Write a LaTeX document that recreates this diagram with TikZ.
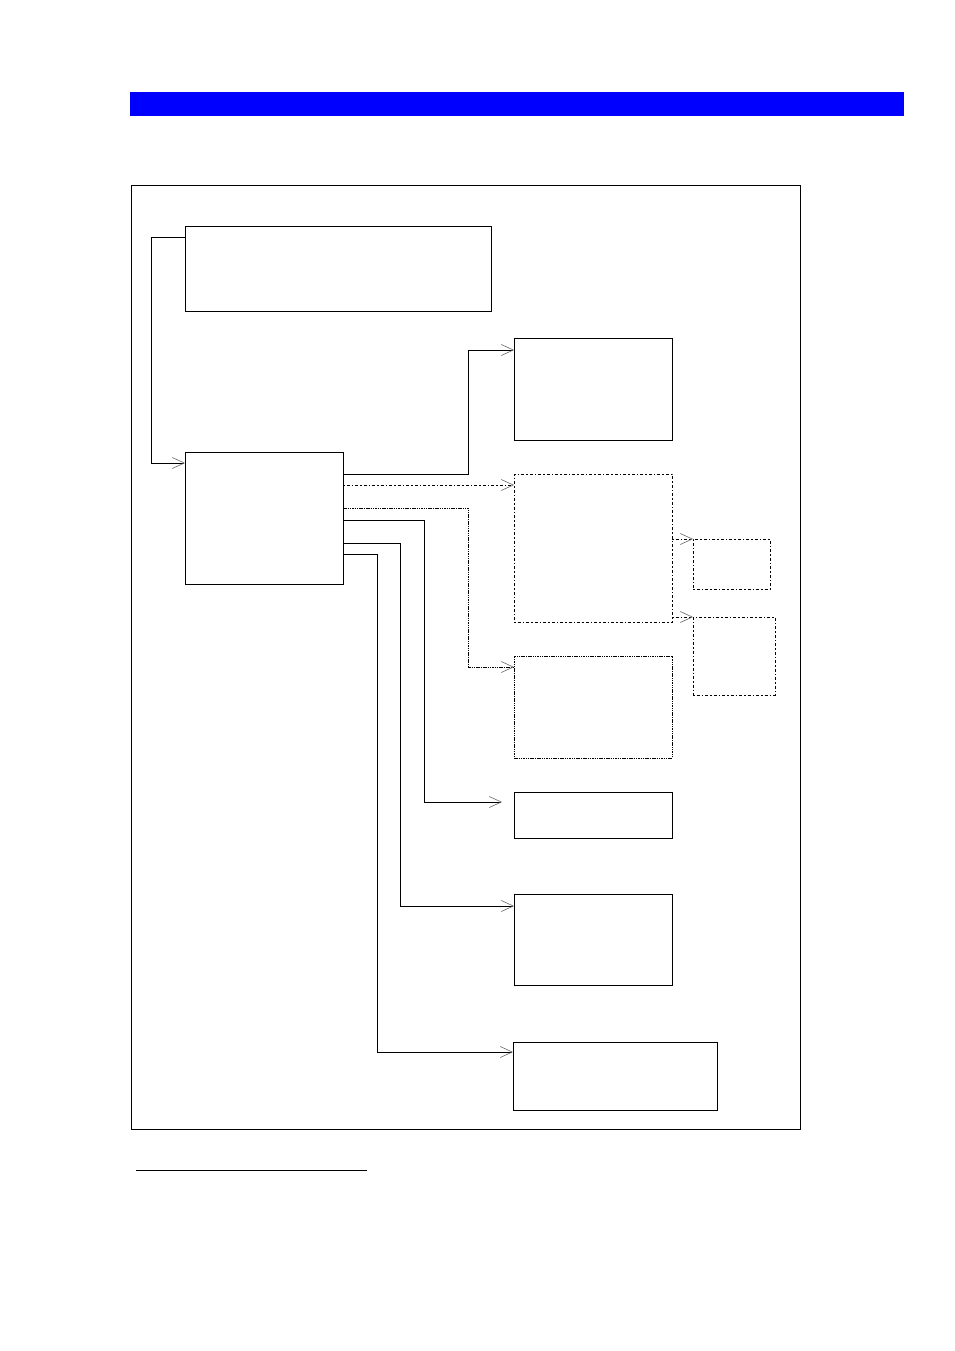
\documentclass[tikz,border=0pt]{standalone}
\usetikzlibrary{arrows.meta}
\begin{document}
\begin{tikzpicture}[x=1pt,y=-1pt, line width=0.9pt,
 box/.style={draw, inner sep=0pt, outer sep=0pt, anchor=north west},
 dotbox/.style={box, dash pattern=on 1.5pt off 2pt on 3pt off 2pt},
 fdotbox/.style={box, dash pattern=on 1.5pt off 0.8pt},
 dotline/.style={dash pattern=on 1.5pt off 2pt on 3pt off 2pt},
 fdotline/.style={dash pattern=on 1.5pt off 0.8pt},
 arr/.style={-{Straight Barb[length=12pt,width=11pt,line width=0.6pt,color=black!60]}}
]
\useasboundingbox (0,0) rectangle (954,1351);
\fill[blue] (130,92) rectangle (904,116);
\draw (131,185) rectangle (800,1129);
\node[box, minimum width=306pt, minimum height=85pt] (A) at (185,226) {};
\node[box, minimum width=158pt, minimum height=132pt] (B) at (185,452) {};
\node[box, minimum width=158pt, minimum height=102pt] (C) at (514,338) {};
\node[dotbox, minimum width=158pt, minimum height=148pt] (D) at (514,474) {};
\node[fdotbox, minimum width=158pt, minimum height=102pt] (E) at (514,656) {};
\node[box, minimum width=158pt, minimum height=46pt] (F) at (514,792) {};
\node[box, minimum width=158pt, minimum height=91pt] (G) at (514,894) {};
\node[box, minimum width=204pt, minimum height=68pt] (H) at (513,1042) {};
\node[dotbox, minimum width=77pt, minimum height=50pt] (I) at (693,539) {};
\node[dotbox, minimum width=82pt, minimum height=78pt] (J) at (693,617) {};
% connectors
\draw[arr] ([yshift=-11pt]A.north west) -- ++(-34,0) |- ([yshift=-11pt]B.north west);
\draw[arr] ([yshift=-22pt]B.north east) -- ++(125,0) |- ([yshift=-12pt]C.north west);
\draw[arr,dotline] ([yshift=-33pt]B.north east) -- ([yshift=-11pt]D.north west);
\draw[arr,fdotline] ([yshift=-56pt]B.north east) -- ++(125,0) |- ([yshift=-11pt]E.north west);
\draw[arr] ([yshift=-68pt]B.north east) -- ++(81,0) |- ([xshift=-12pt,yshift=-10pt]F.north west);
\draw[arr] ([yshift=-91pt]B.north east) -- ++(57,0) |- ([yshift=-12pt]G.north west);
\draw[arr] ([yshift=-102pt]B.north east) -- ++(34,0) |- ([yshift=-10pt]H.north west);
\draw[arr,dotline] ([yshift=-65pt]D.north east) -- (I.north west);
\draw[arr,dotline] ([yshift=-143pt]D.north east) -- (J.north west);
% footnote rule
\draw (136,1170) -- (367,1170);
\end{tikzpicture}
\end{document}
